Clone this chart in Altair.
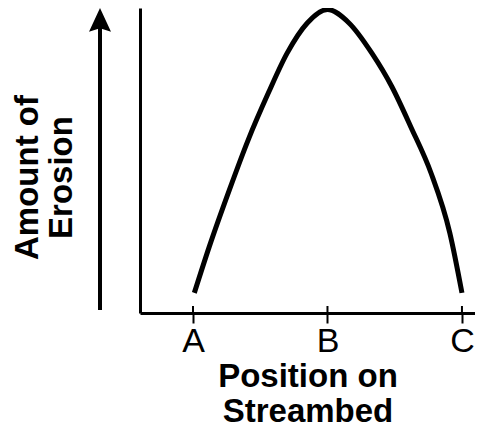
import altair as alt
import pandas as pd

# Curve (position A=0, B=1, C=2; erosion in % of peak scale)
positions = [0.01, 0.12, 0.27, 0.41, 0.56, 0.70, 0.85, 1.0, 1.16, 1.33, 1.48, 1.62, 1.77, 1.91, 2.0]
erosion = [6.6, 21.6, 40.3, 56.7, 72.1, 85.2, 95.1, 99.5, 95.1, 85.2, 74.1, 61.0, 45.9, 26.2, 6.6]
tick_values = [0, 1, 2]
tick_labels = ["A", "B", "C"]
x_title = ["Position on", "Streambed"]
y_title = ["Amount of", "Erosion"]

df = pd.DataFrame({"pos": positions, "amount": erosion})
ticks_df = pd.DataFrame({"pos": tick_values, "label": tick_labels})
one = pd.DataFrame({"k": [0]})

label_expr = " : ".join(
    f"datum.value == {v} ? '{l}'" for v, l in zip(tick_values, tick_labels)
) + " : ''"

FONT = "Liberation Sans"
W, H = 335, 305

x_scale = alt.Scale(domain=[-0.394, 2.097], nice=False, zero=False)
y_scale = alt.Scale(domain=[0, 100], nice=False, zero=True)

x_axis = alt.Axis(
    values=tick_values, labelExpr=label_expr, title=x_title, grid=False,
    domainColor="black", domainWidth=3, tickColor="black", tickWidth=2, tickSize=10,
    labelFont=FONT, labelFontSize=34, labelColor="black", labelPadding=1,
    labelFlush=False, labelAngle=0,
    titleFont=FONT, titleFontSize=33, titleFontWeight="bold", titleColor="black",
    titleLineHeight=34.5, titlePadding=2.5,
)
y_axis = alt.Axis(
    title=y_title, grid=False, ticks=False, labels=False,
    domainColor="black", domainWidth=3,
    titleFont=FONT, titleFontSize=33, titleFontWeight="bold", titleColor="black",
    titleLineHeight=34, titleX=-96, titleY=169, titleBaseline="bottom",
    titleAngle=270, titleAlign="center",
)

curve = alt.Chart(df).mark_line(
    color="black", strokeWidth=5, interpolate="monotone", clip=False
).encode(
    x=alt.X("pos:Q", scale=x_scale, axis=x_axis),
    y=alt.Y("amount:Q", scale=y_scale, axis=y_axis),
)

tick_up = alt.Chart(ticks_df).mark_rule(color="black", strokeWidth=2).encode(
    x=alt.X("pos:Q", scale=x_scale),
    y=alt.value(H - 7),
    y2=alt.value(H),
)

arrow_shaft = alt.Chart(one).mark_rule(color="black", strokeWidth=4).encode(
    x=alt.value(-40), y=alt.value(20), y2=alt.value(302)
)

arrow_head = alt.Chart(one).mark_point(
    shape="M0,-1 L1,1.15 L0,0.85 L-1,1.15 Z", filled=True, size=484,
    color="black", opacity=1, strokeWidth=0,
).encode(x=alt.value(-40), y=alt.value(11))

chart = alt.layer(curve, tick_up, arrow_shaft, arrow_head).properties(
    width=W, height=H,
    autosize=alt.AutoSizeParams(type="none"),
    padding={"left": 132, "top": 0, "right": 0, "bottom": 121},
).configure(background="white").configure_view(strokeWidth=0)

chart.save("out.html", embed_options={"renderer": "svg", "actions": False})
